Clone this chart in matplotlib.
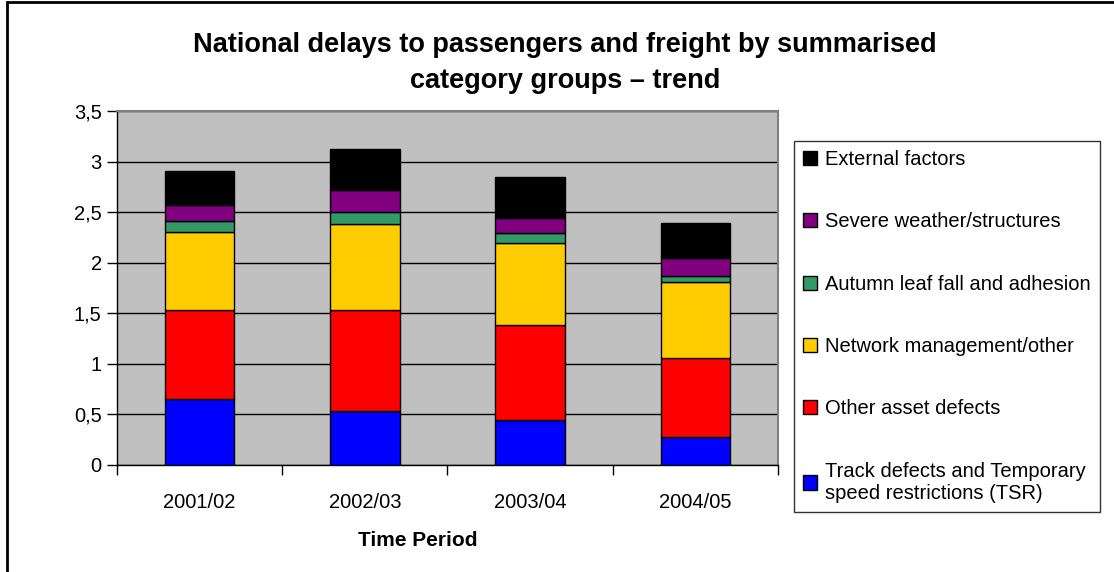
import numpy as np
import matplotlib
matplotlib.use("Agg")
import matplotlib.pyplot as plt
from matplotlib.patches import Rectangle, Patch

plt.rcParams['font.family'] = ['Liberation Sans', 'DejaVu Sans']

# data (delay, stacked by category)
periods = ['2001/02', '2002/03', '2003/04', '2004/05']
track_tsr = [0.65, 0.53, 0.44, 0.28]
other_asset = [0.88, 1.00, 0.945, 0.78]
network_mgmt = [0.77, 0.85, 0.805, 0.75]
autumn_leaf = [0.11, 0.12, 0.10, 0.06]
severe_weather = [0.16, 0.22, 0.15, 0.18]
external = [0.34, 0.40, 0.41, 0.34]

series = [
    ('Track defects and Temporary\nspeed restrictions (TSR)', track_tsr, '#0000FF'),
    ('Other asset defects', other_asset, '#FF0000'),
    ('Network management/other', network_mgmt, '#FFCC00'),
    ('Autumn leaf fall and adhesion', autumn_leaf, '#339966'),
    ('Severe weather/structures', severe_weather, '#800080'),
    ('External factors', external, '#000000'),
]

W, H = 1114, 572
fig = plt.figure(figsize=(W / 100, H / 100), dpi=100)
fig.patches.append(Rectangle((7 / W, -0.01), 1.02, 1 - 2 / H + 0.01, transform=fig.transFigure,
                             fill=False, edgecolor='black', linewidth=2))

ax = fig.add_axes([117 / W, (H - 465) / H, 661 / W, 354 / H])
ax.set_facecolor('#C0C0C0')

x = np.arange(len(periods))
bottom = np.zeros(len(periods))
for name, vals, col in series:
    ax.bar(x, vals, 0.42, bottom=bottom, color=col, edgecolor='black', linewidth=1, zorder=3)
    bottom += np.array(vals)

ax.set_xlim(-0.5, len(periods) - 0.5)
ax.set_ylim(0, 3.5)
yt = np.arange(0, 3.51, 0.5)
ax.set_yticks(yt)
ax.set_yticklabels([('%g' % v).replace('.', ',') for v in yt], fontsize=14.5)
ax.yaxis.grid(True, color='black', linewidth=1, zorder=1)
ax.set_axisbelow(True)

ax.set_xticks(x)
ax.set_xticklabels(periods, fontsize=14.5)
ax.set_xticks(np.arange(-0.5, len(periods)), minor=True)
ax.tick_params(axis='x', which='major', length=0, pad=20)
ax.tick_params(axis='x', which='minor', length=7, width=1, direction='out')
ax.tick_params(axis='y', length=7, width=1, direction='out', pad=4)

for s in ['top', 'right']:
    ax.spines[s].set_color('#808080')
    ax.spines[s].set_linewidth(1.5)
for s in ['left', 'bottom']:
    ax.spines[s].set_color('black')
    ax.spines[s].set_linewidth(1)

fig.text(418 / W, 1 - 540 / H, 'Time Period', ha='center', va='center',
         fontsize=15, fontweight='bold')
fig.text(565 / W, 1 - 63 / H, 'National delays to passengers and freight by summarised\ncategory groups \u2013 trend',
         ha='center', va='center', fontsize=19.5, fontweight='bold', linespacing=1.45)

handles = [Patch(facecolor=c, edgecolor='black', linewidth=1) for _, _, c in series][::-1]
labels = [n for n, _, _ in series][::-1]
leg = fig.legend(handles, labels, loc='upper left', bbox_to_anchor=(794 / W, 1 - 141 / H),
                 fontsize=14.5, frameon=True, fancybox=False, edgecolor='black',
                 labelspacing=2.15, handlelength=0.7, handleheight=0.7, handletextpad=0.4,
                 borderaxespad=0, borderpad=0.45)
leg.get_frame().set_linewidth(1)

fig.savefig('out.png', dpi=100)
